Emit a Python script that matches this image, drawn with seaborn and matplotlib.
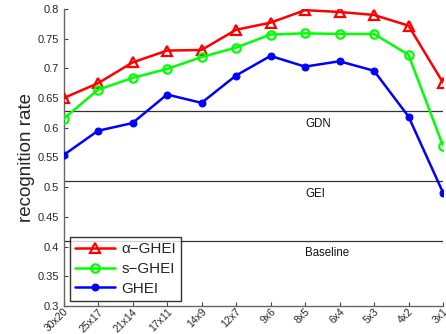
import matplotlib
matplotlib.use("Agg")
import matplotlib.pyplot as plt
import seaborn as sns
import pandas as pd

categories = ["30x20", "25x17", "21x14", "17x11", "14x9", "12x7", "9x6", "8x5", "6x4", "5x3", "4x2", "3x1"]
alpha_ghei = [0.650, 0.675, 0.710, 0.730, 0.731, 0.765, 0.777, 0.798, 0.795, 0.790, 0.772, 0.676]
s_ghei = [0.615, 0.664, 0.684, 0.699, 0.719, 0.735, 0.757, 0.759, 0.758, 0.758, 0.723, 0.570]
ghei = [0.554, 0.595, 0.608, 0.656, 0.642, 0.688, 0.721, 0.703, 0.712, 0.696, 0.619, 0.491]
ref_names = ["GDN", "GEI", "Baseline"]
ref_values = [0.628, 0.510, 0.410]
yticks = [0.3, 0.35, 0.4, 0.45, 0.5, 0.55, 0.6, 0.65, 0.7, 0.75, 0.8]

sns.set_style("white")
plt.rcParams["font.family"] = ["Liberation Sans", "DejaVu Sans"]

fig = plt.figure(figsize=(4.46, 3.34), dpi=100)
ax = fig.add_axes([63.5 / 446, 1 - 306 / 334, (443 - 63.5) / 446, (306 - 9) / 334])

x = list(range(len(categories)))
df = pd.DataFrame({"x": x, "a": alpha_ghei, "s": s_ghei, "g": ghei})

for yv in ref_values:
    ax.axhline(yv, color="#333333", lw=0.9, zorder=1)
for name, yv in zip(ref_names, ref_values):
    ax.text(7, yv - 0.011, name, fontsize=8.3, va="top", ha="left", color="#111111")

sns.lineplot(data=df, x="x", y="a", ax=ax, color="#ff0000", lw=1.8, marker="^",
             markersize=7, markerfacecolor="none", markeredgecolor="#ff0000",
             markeredgewidth=1.6, label="\u03b1\u2212GHEI", zorder=3)
sns.lineplot(data=df, x="x", y="s", ax=ax, color="#00ff00", lw=1.8, marker="o",
             markersize=6, markerfacecolor="none", markeredgecolor="#00ff00",
             markeredgewidth=1.6, label="s\u2212GHEI", zorder=3)
sns.lineplot(data=df, x="x", y="g", ax=ax, color="#0000ff", lw=1.8, marker="o",
             markersize=5, markerfacecolor="#0000ff", markeredgecolor="#0000ff",
             label="GHEI", zorder=3)

ax.set_xlim(0, 11)
ax.set_ylim(0.3, 0.8)
ax.set_yticks(yticks)
ax.set_yticklabels([f"{v:g}" for v in yticks], fontsize=8)
ax.set_xticks(x)
ax.set_xticklabels(categories, fontsize=7.5, rotation=45, ha="right", va="top",
                   rotation_mode="anchor")
ax.set_xlabel("")
ax.set_ylabel("recognition rate", fontsize=13.5, labelpad=2)
ax.tick_params(axis="y", direction="in", length=3, width=0.8, color="#444444", pad=3, left=True)
ax.tick_params(axis="x", direction="in", length=3, width=0.8, color="#444444", pad=0.5, bottom=True)
for side in ["top", "right"]:
    ax.spines[side].set_visible(False)
for side in ["left", "bottom"]:
    ax.spines[side].set_color("#666666")
    ax.spines[side].set_linewidth(1.0)

leg = ax.legend(loc="lower left", bbox_to_anchor=(6.5 / 379.5, 5 / 297), fontsize=11,
                frameon=True, fancybox=False, handlelength=2.6, borderpad=0.35,
                labelspacing=0.38, handletextpad=0.4, borderaxespad=0)
leg.get_frame().set_edgecolor("black")
leg.get_frame().set_linewidth(1.0)

fig.savefig("out.png", dpi=100)
